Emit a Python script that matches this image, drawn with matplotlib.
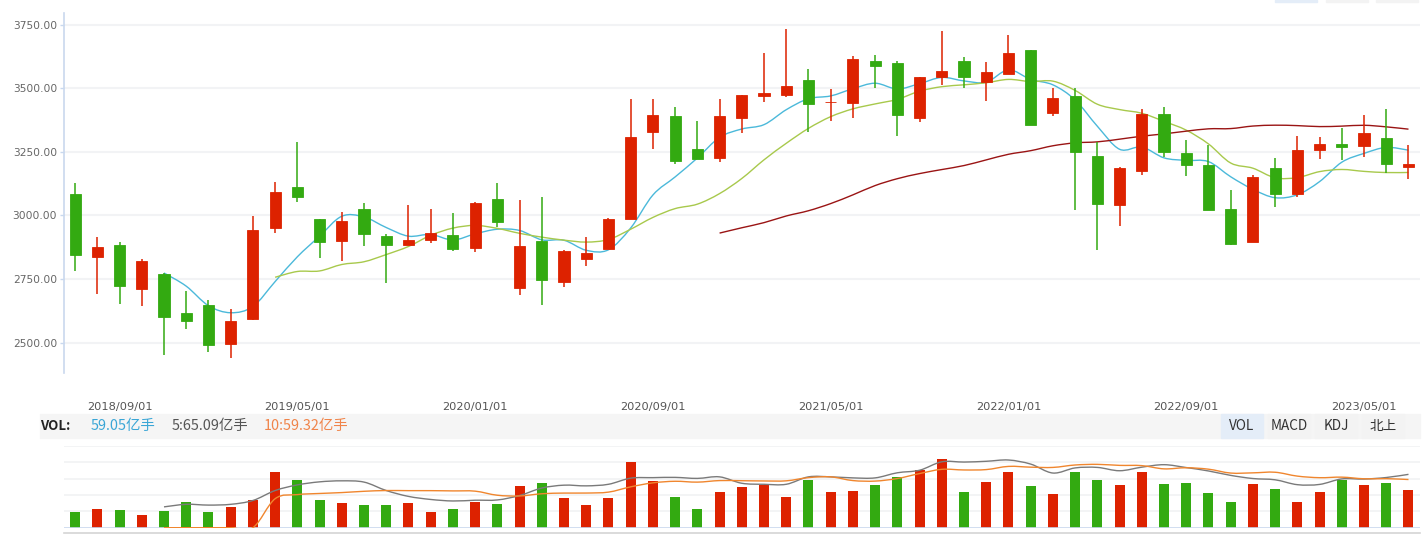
import numpy as np
import pandas as pd
import matplotlib
matplotlib.use("Agg")
from matplotlib import pyplot as plt
from matplotlib.path import Path
from matplotlib.patches import PathPatch, Rectangle

plt.rcParams['font.family'] = ['Noto Sans CJK SC', 'DejaVu Sans']

# monthly candles 2018/07 .. 2023/07
opens = [3085, 2838, 2884, 2712, 2770, 2616, 2648, 2495, 2594, 2952,
         3112, 2986, 2901, 3026, 2919, 2885, 2905, 2923, 2873, 3065,
         2716, 2900, 2740, 2830, 2869, 2986, 3330, 3392, 3262, 3228,
         3385, 3472, 3476, 3534, 3445, 3444, 3608, 3600, 3385, 3544,
         3608, 3527, 3558, 3652, 3405, 3471, 3234, 3043, 3177, 3400,
         3246, 3199, 3026, 2897, 3187, 3086, 3259, 3282, 3275, 3305, 3192]
closes = [2846, 2876, 2724, 2821, 2602, 2586, 2492, 2585, 2943, 3093,
          3074, 2897, 2978, 2929, 2885, 2904, 2931, 2869, 3049, 2976,
          2880, 2747, 2860, 2852, 2986, 3309, 3396, 3216, 3224, 3392,
          3474, 3482, 3510, 3440, 3447, 3616, 3590, 3397, 3545, 3569,
          3547, 3565, 3640, 3356, 3463, 3250, 3047, 3187, 3400, 3250,
          3200, 3023, 2889, 3152, 3086, 3258, 3282, 3271, 3325, 3204, 3203]
highs = [3128, 2915, 2896, 2829, 2775, 2703, 2667, 2632, 2998, 3132,
         3289, 2986, 3014, 3049, 2926, 3041, 3026, 3010, 3055, 3128,
         3061, 3073, 2864, 2915, 2990, 3459, 3459, 3427, 3372, 3459,
         3474, 3640, 3734, 3577, 3498, 3628, 3632, 3608, 3545, 3726,
         3624, 3604, 3711, 3652, 3500, 3500, 3291, 3190, 3419, 3427,
         3297, 3278, 3100, 3160, 3226, 3313, 3309, 3345, 3396, 3419, 3278]
lows = [2783, 2691, 2653, 2645, 2452, 2555, 2464, 2440, 2590, 2932,
        3052, 2834, 2822, 2881, 2736, 2885, 2893, 2862, 2858, 2953,
        2688, 2649, 2720, 2803, 2869, 2986, 3263, 3204, 3224, 3211,
        3326, 3448, 3468, 3330, 3373, 3385, 3503, 3314, 3369, 3515,
        3503, 3452, 3558, 3356, 3393, 3023, 2866, 2960, 3161, 3230,
        3157, 3023, 2884, 2897, 3035, 3074, 3224, 3219, 3232, 3169, 3144]
# volume, 亿手
volumes = [24.4, 29.1, 27.5, 19.7, 26.0, 39.9, 24.4, 32.2, 43.0, 86.6,
           74.1, 43.0, 38.4, 35.3, 35.3, 38.4, 24.4, 29.1, 39.9, 37.0,
           65.3, 69.9, 46.6, 35.7, 46.6, 102.6, 73.0, 48.2, 29.5, 55.9,
           63.7, 66.8, 48.2, 74.6, 55.9, 57.5, 66.8, 79.3, 90.1, 107.2,
           55.9, 71.5, 87.0, 65.3, 52.8, 87.0, 74.6, 66.8, 87.0, 67.9,
           69.5, 53.9, 39.9, 67.9, 60.1, 39.9, 55.5, 73.4, 67.0, 69.5, 59.05]
dates = pd.date_range('2018-07-01', periods=len(opens), freq='MS')
tick_idx = list(range(2, len(dates), 8))
tick_labels = [dates[i].strftime('%Y/%m/%d') for i in tick_idx]
price_ticks = [2500, 2750, 3000, 3250, 3500, 3750]

vol_texts = ['59.05亿手', '5:65.09亿手', '10:59.32亿手']
buttons = ['VOL', 'MACD', 'KDJ', '北上']

RED = '#dd2200'
GREEN = '#33aa11'
GRID = '#f2f3f5'
AXIS = '#c9d8ee'

W, H = 1424, 534


def fx(px):
    return px / W


def fy(py):
    return 1 - py / H


def smooth_path(xs, ys):
    pts = np.column_stack([xs, ys])
    verts = [pts[0]]
    codes = [Path.MOVETO]
    n = len(pts)
    for i in range(n - 1):
        p0 = pts[max(i - 1, 0)]
        p1 = pts[i]
        p2 = pts[i + 1]
        p3 = pts[min(i + 2, n - 1)]
        verts += [p1 + (p2 - p0) / 6, p2 - (p3 - p1) / 6, p2]
        codes += [Path.CURVE4] * 3
    return Path(verts, codes)


def draw_line(ax, xs, ys, color, lw=1.0):
    ax.add_patch(PathPatch(smooth_path(xs, ys), fill=False, edgecolor=color, lw=lw))


fig = plt.figure(figsize=(W / 100, H / 100), dpi=100)

x = np.arange(len(opens))
o = np.array(opens, float)
c = np.array(closes, float)
colors = [RED if cc >= oo else GREEN for oo, cc in zip(o, c)]

# ================ price panel ================
ax = fig.add_axes([fx(64), fy(373), fx(1419.6 - 64), (373 - 13) / H])
ax.set_xlim(-0.5, len(opens) - 0.5)
ax.set_ylim(2380, 3797)
for yv in price_ticks:
    ax.axhline(yv, color=GRID, lw=1.5, zorder=0)

ax.vlines(x, lows, highs, colors=colors, lw=1.1, zorder=2)
ax.bar(x, np.abs(c - o), bottom=np.minimum(o, c), width=0.5, color=colors,
       edgecolor=colors, linewidth=0.6, zorder=3)

close_s = pd.Series(closes, dtype=float)
for win, col in [(5, '#4bb9da'), (10, '#a8c94c'), (30, '#9a1414')]:
    ma = close_s.rolling(win).mean()
    ok = ma.notna().values
    draw_line(ax, x[ok], ma.values[ok], col)

ax.set_yticks(price_ticks)
ax.set_yticklabels(['%.2f' % v for v in price_ticks], family='DejaVu Sans')
ax.tick_params(axis='y', colors=AXIS, length=3, width=1, labelcolor='#666666',
               labelsize=7.7, pad=2)
ax.set_xticks(tick_idx)
ax.set_xticklabels(tick_labels, family='DejaVu Sans')
ax.tick_params(axis='x', length=0, labelcolor='#555555', labelsize=8.2, pad=21)
for s in ['top', 'right', 'bottom']:
    ax.spines[s].set_visible(False)
ax.spines['left'].set_color(AXIS)
ax.spines['left'].set_linewidth(1.2)

# ================ VOL strip ================
fig.patches.append(Rectangle((fx(40), fy(438)), fx(1420 - 40), 24 / H,
                             transform=fig.transFigure, color='#f5f5f5', zorder=0))
fig.text(fx(40), fy(426), 'VOL:', fontsize=9.5, fontweight='bold', color='#222222',
         va='center', ha='left')
for xp, txt, col in zip([91, 172, 264], vol_texts, ['#3aa6d6', '#555555', '#f0844a']):
    fig.text(fx(xp), fy(426), txt, fontsize=10.4, color=col, va='center', ha='left')

for i, b in enumerate(buttons):
    left = 1221 + 47 * i
    bg = '#e4edf8' if i == 0 else '#f3f3f3'
    fig.patches.append(Rectangle((fx(left), fy(438)), fx(42), 24 / H,
                                 transform=fig.transFigure, color=bg, zorder=0))
    fig.text(fx(left + 21), fy(426), b, fontsize=9.8, color='#333333',
             va='center', ha='center')
# slivers of the top-right buttons
for i, left in enumerate([1275, 1326, 1376]):
    bg = '#e4edf8' if i == 0 else '#f3f3f3'
    fig.patches.append(Rectangle((fx(left), fy(2)), fx(42), 2 / H,
                                 transform=fig.transFigure, color=bg, zorder=0))

# ================ volume panel ================
axv = fig.add_axes([fx(64), fy(527.7), fx(1419.6 - 64), 81.7 / H])
axv.set_xlim(-0.5, len(opens) - 0.5)
vtop = 81.7 / 0.6435
axv.set_ylim(0, vtop)
for yv in np.linspace(0, vtop, 6)[1:]:
    axv.axhline(yv, color=GRID, lw=1.3, zorder=0)
axv.bar(x, volumes, width=0.45, color=colors, zorder=2)
axv.axhline(0, color=AXIS, lw=1.2, zorder=3)
axv.axis('off')

axl = axv.twinx()
axl.set_xlim(-0.5, len(opens) - 0.5)
axl.set_ylim(0, 81.7 / 0.822)
vol_s = pd.Series(volumes, dtype=float)
ma5 = vol_s.rolling(5).mean()
ma10 = vol_s.rolling(10).mean()
ma10[4:9] = 0.0  # the chart draws MA10 at zero until it has 10 bars
ok5 = ma5.notna().values
ok10 = ma10.notna().values
draw_line(axl, x[ok5], ma5.values[ok5], '#7a7a7a')
draw_line(axl, x[ok10], ma10.values[ok10], '#f0862e')
axl.axis('off')

fig.lines.append(plt.Line2D([fx(64), fx(1420)], [fy(533), fy(533)],
                            transform=fig.transFigure, color='#d4d4d4', lw=1.2))

fig.savefig('out.png', dpi=100)
